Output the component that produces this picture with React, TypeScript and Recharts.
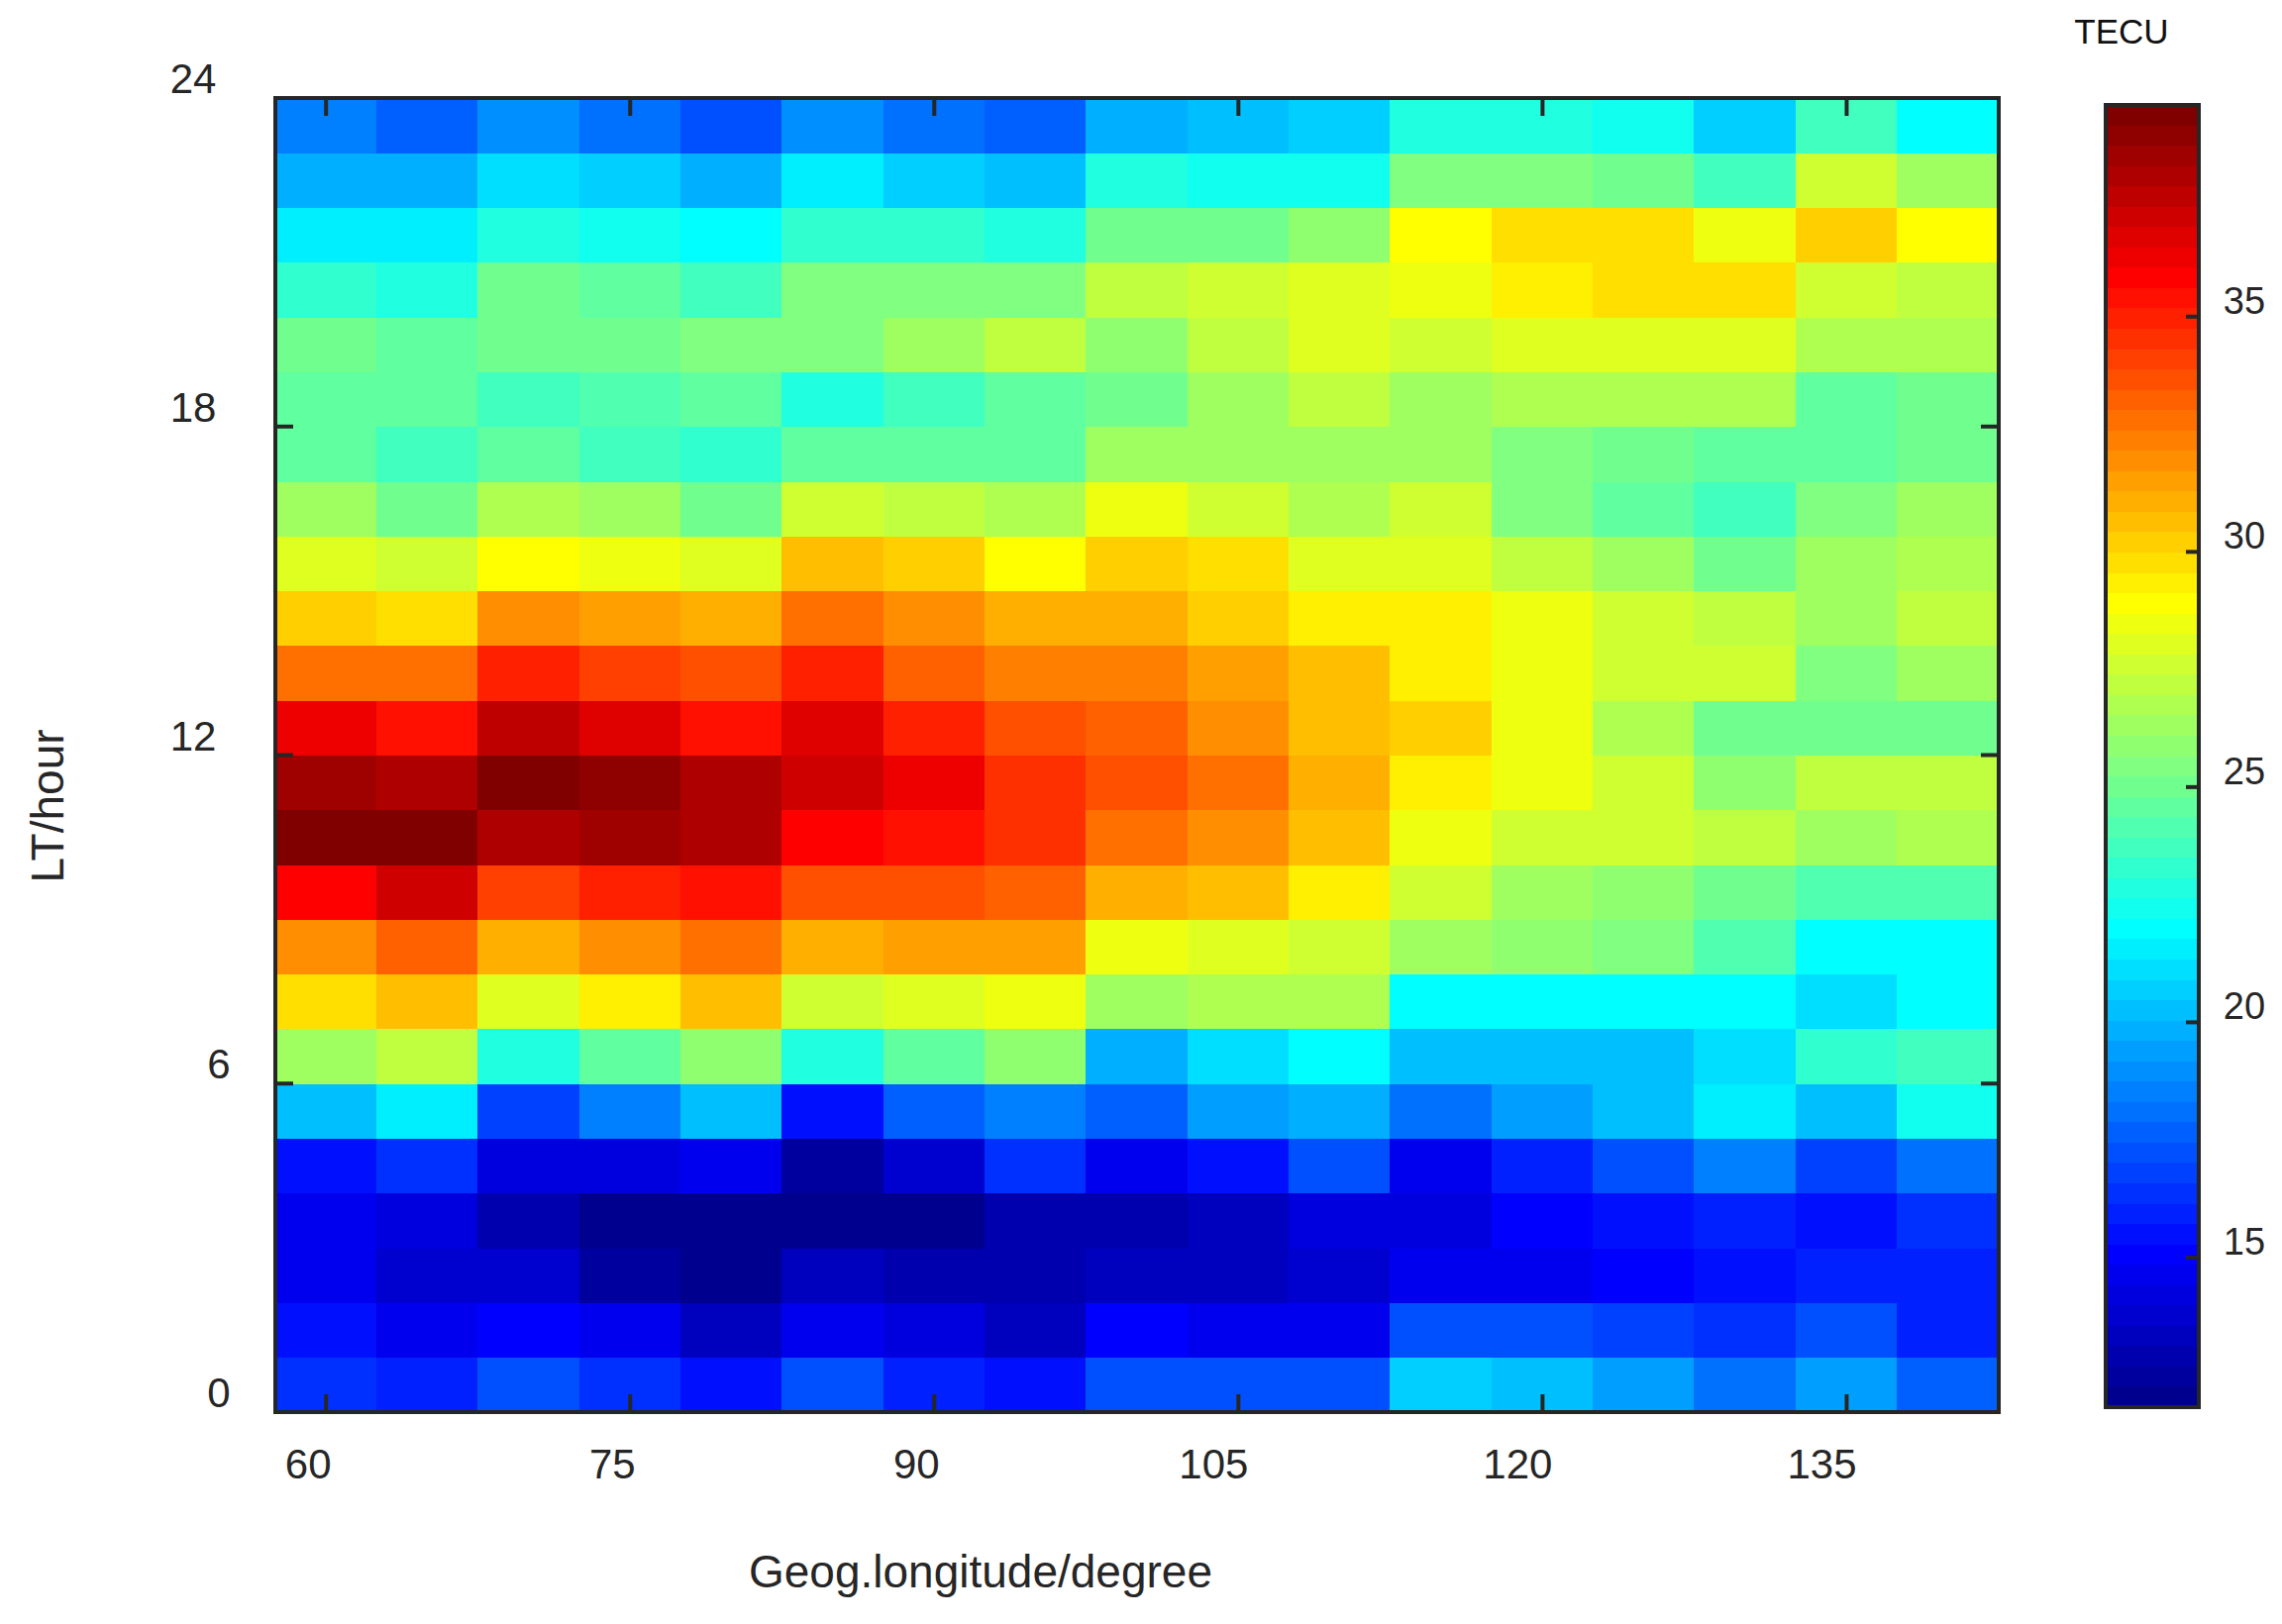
import { Bar, BarChart, Cell, XAxis, YAxis } from "recharts";

const longitudes = [60, 65, 70, 75, 80, 85, 90, 95, 100, 105, 110, 115, 120, 125, 130, 135, 140];
const lonTicks = [60, 75, 90, 105, 120, 135];
const hourTicks = [0, 6, 12, 18, 24];
const scaleTicks = [15, 20, 25, 30, 35];
const scaleMin = 11.82;
const scaleMax = 39.5;

// TEC per local-time hour, first row is 00-01 LT
const tecByHour = [
  [16.3, 15.9, 17.2, 16.3, 15.4, 17.2, 16.1, 15.4, 17.4, 17.4, 17.4, 20.7, 20.1, 19.3, 18.1, 19.5, 17.6],
  [15.3, 14.5, 15.1, 14.8, 13.5, 14.6, 14.0, 13.5, 15.1, 14.8, 14.6, 17.2, 17.2, 16.8, 16.3, 17.2, 15.9],
  [14.8, 13.7, 13.9, 12.6, 12.2, 13.5, 13.0, 13.0, 13.5, 13.2, 13.8, 14.8, 14.8, 15.1, 15.3, 15.8, 15.8],
  [14.5, 14.0, 13.0, 12.1, 12.1, 12.2, 12.1, 12.8, 13.0, 13.4, 14.2, 14.2, 15.0, 15.4, 15.8, 15.4, 16.2],
  [15.4, 16.2, 14.2, 14.2, 14.7, 12.4, 13.7, 16.3, 14.5, 15.4, 17.4, 14.8, 15.9, 17.4, 18.7, 16.8, 18.1],
  [20.1, 21.6, 16.8, 18.5, 20.4, 15.7, 17.6, 18.7, 17.6, 19.3, 19.9, 18.3, 19.3, 20.1, 21.4, 20.2, 22.3],
  [26.2, 27.2, 22.8, 24.4, 25.9, 22.8, 24.4, 25.9, 20.0, 21.0, 21.9, 20.4, 20.4, 20.4, 21.0, 23.3, 23.8],
  [29.9, 30.6, 28.1, 29.3, 30.6, 27.4, 28.1, 28.6, 26.2, 26.9, 26.9, 22.0, 21.9, 21.9, 21.8, 21.1, 21.8],
  [31.9, 33.4, 31.2, 31.9, 33.0, 31.2, 31.5, 31.5, 28.6, 28.1, 27.6, 26.3, 25.9, 25.5, 24.3, 22.0, 22.0],
  [35.8, 37.2, 34.1, 35.0, 35.6, 33.6, 33.6, 33.2, 31.2, 30.6, 29.5, 27.4, 26.3, 25.9, 25.0, 24.3, 24.3],
  [39.3, 39.3, 38.0, 38.6, 38.0, 35.8, 35.4, 34.5, 33.0, 32.1, 30.7, 28.6, 27.6, 27.6, 27.0, 26.2, 26.9],
  [38.5, 38.0, 39.3, 38.9, 38.2, 37.3, 36.4, 34.5, 33.6, 32.6, 31.2, 29.3, 28.3, 27.4, 25.9, 27.0, 27.2],
  [36.4, 35.4, 37.5, 36.8, 35.4, 36.8, 35.0, 33.6, 33.2, 31.9, 30.7, 30.0, 28.3, 26.9, 25.1, 24.9, 24.9],
  [32.8, 32.8, 35.0, 34.3, 33.8, 34.8, 33.4, 32.4, 32.4, 31.5, 30.6, 29.3, 28.3, 27.7, 27.4, 25.6, 26.3],
  [30.4, 29.9, 32.1, 31.7, 31.2, 32.8, 31.9, 31.1, 31.0, 30.4, 29.3, 29.3, 28.3, 27.6, 27.2, 26.5, 27.2],
  [28.1, 27.7, 29.0, 28.6, 28.2, 30.7, 30.0, 28.8, 30.3, 29.7, 28.1, 28.1, 27.2, 26.3, 25.0, 26.5, 26.8],
  [26.3, 25.0, 26.7, 26.3, 25.0, 27.6, 27.2, 26.7, 28.6, 27.4, 26.7, 27.4, 25.6, 24.4, 23.8, 25.5, 26.2],
  [24.4, 23.8, 24.4, 23.8, 23.3, 24.7, 24.7, 24.7, 26.5, 26.5, 26.5, 26.5, 25.5, 25.0, 24.7, 24.6, 25.0],
  [24.7, 24.7, 23.8, 24.2, 24.7, 22.8, 23.8, 24.7, 25.0, 26.3, 27.2, 26.3, 26.8, 26.8, 26.8, 24.4, 25.0],
  [25.0, 24.7, 25.0, 25.0, 25.6, 25.6, 26.3, 27.2, 25.9, 27.2, 28.0, 27.6, 28.2, 28.2, 28.2, 26.7, 26.7],
  [23.3, 22.8, 24.8, 24.5, 23.8, 25.4, 25.4, 25.4, 27.2, 27.6, 28.0, 28.5, 29.5, 29.9, 29.9, 27.6, 27.2],
  [21.6, 21.6, 22.8, 22.3, 22.0, 23.3, 23.3, 22.8, 25.0, 25.0, 25.9, 28.9, 29.8, 29.9, 28.6, 30.2, 29.0],
  [19.9, 19.9, 21.1, 20.7, 19.9, 21.6, 20.7, 20.2, 22.8, 22.3, 22.3, 25.4, 25.4, 24.8, 23.6, 27.6, 26.3],
  [18.4, 17.7, 19.0, 18.2, 17.3, 19.0, 18.2, 17.7, 20.0, 20.1, 20.6, 22.7, 22.7, 22.3, 20.7, 23.5, 21.8],
];

const LEVELS = 64;
const ink = "#262626";
const font = "'Liberation Sans', Arial, sans-serif";

// matlab jet(64)
function jetColor(i: number): string {
  const r = i < 24 ? 0 : i < 40 ? (i - 23) / 16 : i < 56 ? 1 : 1 - (i - 55) / 16;
  const g = i < 8 ? 0 : i < 24 ? (i - 7) / 16 : i < 40 ? 1 : i < 56 ? 1 - (i - 39) / 16 : 0;
  const b = i < 8 ? (i + 9) / 16 : i < 24 ? 1 : i < 40 ? 1 - (i - 23) / 16 : 0;
  const hex = (c: number) => Math.round(c * 255).toString(16).padStart(2, "0");
  return `#${hex(r)}${hex(g)}${hex(b)}`;
}

function tecColor(v: number): string {
  const i = Math.floor(((v - scaleMin) / (scaleMax - scaleMin)) * LEVELS);
  return jetColor(Math.max(0, Math.min(LEVELS - 1, i)));
}

const heatData = longitudes.map((lon) => {
  const row: Record<string, number> = { lon };
  tecByHour.forEach((_, h) => {
    row[`h${h}`] = 1;
  });
  return row;
});

const levelIds = Array.from({ length: LEVELS }, (_, i) => i);
const scaleRow: Record<string, number | string> = { name: "TECU", base: scaleMin };
levelIds.forEach((i) => {
  scaleRow[`l${i}`] = (scaleMax - scaleMin) / LEVELS;
});
const scaleData = [scaleRow];

function BottomTick({ x, y, payload }: any) {
  const s = String(payload.value);
  return (
    <g>
      <line x1={x} x2={x} y1={y} y2={y - 18} stroke={ink} strokeWidth={4} />
      <text x={x - (s.length > 2 ? 25 : 18)} y={y + 67} textAnchor="middle" fontSize={42} fontFamily={font} fill={ink}>
        {s}
      </text>
    </g>
  );
}

function TopTick({ x, y }: any) {
  return <line x1={x} x2={x} y1={y} y2={y + 18} stroke={ink} strokeWidth={4} />;
}

function LeftTick({ x, y, payload }: any) {
  const s = String(payload.value);
  return (
    <g>
      <line x1={x} x2={x + 18} y1={y} y2={y} stroke={ink} strokeWidth={4} />
      <text x={s.length > 1 ? 195 : 221} y={y - 5} textAnchor="middle" fontSize={42} fontFamily={font} fill={ink}>
        {s}
      </text>
    </g>
  );
}

function RightTick({ x, y }: any) {
  return <line x1={x} x2={x - 18} y1={y} y2={y} stroke={ink} strokeWidth={4} />;
}

function ScaleTick({ x, y, payload }: any) {
  return (
    <g>
      <line x1={x} x2={x - 13} y1={y} y2={y} stroke={ink} strokeWidth={4} />
      <text x={x + 46} y={y - 3} textAnchor="middle" fontSize={38} fontFamily={font} fill={ink}>
        {payload.value}
      </text>
    </g>
  );
}

const frame = { stroke: ink, strokeWidth: 4, strokeLinecap: "square" as const };

function HeatMap() {
  return (
    <BarChart
      width={2304}
      height={1640}
      data={heatData}
      margin={{ left: 277, right: 285, top: 98, bottom: 213 }}
      barCategoryGap={0}
      barGap={0}
    >
      {tecByHour.map((row, h) => (
        <Bar
          key={h}
          dataKey={`h${h}`}
          stackId="heat"
          xAxisId="bottom"
          yAxisId="left"
          shapeRendering="crispEdges"
          isAnimationActive={false}
        >
          {row.map((v, c) => (
            <Cell key={c} fill={tecColor(v)} stroke={tecColor(v)} strokeWidth={1} />
          ))}
        </Bar>
      ))}
      <XAxis
        xAxisId="bottom"
        dataKey="lon"
        orientation="bottom"
        ticks={lonTicks}
        interval={0}
        height={1}
        tickSize={0}
        tickMargin={0}
        tickLine={false}
        axisLine={frame}
        tick={BottomTick}
      />
      <XAxis
        xAxisId="top"
        dataKey="lon"
        orientation="top"
        ticks={lonTicks}
        interval={0}
        height={1}
        tickSize={0}
        tickMargin={0}
        tickLine={false}
        axisLine={frame}
        tick={TopTick}
      />
      <YAxis
        yAxisId="left"
        type="number"
        domain={[0, 24]}
        ticks={hourTicks}
        interval={0}
        width={1}
        tickSize={0}
        tickMargin={0}
        tickLine={false}
        axisLine={frame}
        tick={LeftTick}
      />
      <YAxis
        yAxisId="right"
        orientation="right"
        type="number"
        domain={[0, 24]}
        allowDataOverflow
        ticks={hourTicks}
        interval={0}
        width={1}
        tickSize={0}
        tickMargin={0}
        tickLine={false}
        axisLine={frame}
        tick={RightTick}
      />
      <text x={990} y={1603} textAnchor="middle" fontSize={46} fontFamily={font} fill={ink}>
        Geog.longitude/degree
      </text>
      <text
        x={48}
        y={814}
        textAnchor="middle"
        dominantBaseline="central"
        transform="rotate(-90 48 814)"
        fontSize={46}
        fontFamily={font}
        fill={ink}
      >
        LT/hour
      </text>
    </BarChart>
  );
}

function ColorBar() {
  return (
    <BarChart
      width={304}
      height={1640}
      data={scaleData}
      margin={{ left: 125, right: 83, top: 105, bottom: 218 }}
      barCategoryGap={0}
      barGap={0}
    >
      <Bar dataKey="base" stackId="scale" xAxisId="bottom" yAxisId="left" fill="none" isAnimationActive={false} />
      {levelIds.map((i) => (
        <Bar
          key={i}
          dataKey={`l${i}`}
          stackId="scale"
          xAxisId="bottom"
          yAxisId="left"
          fill={jetColor(i)}
          shapeRendering="crispEdges"
          isAnimationActive={false}
        />
      ))}
      <XAxis xAxisId="bottom" dataKey="name" orientation="bottom" height={1} tick={false} tickLine={false} axisLine={frame} />
      <XAxis xAxisId="top" dataKey="name" orientation="top" height={1} tick={false} tickLine={false} axisLine={frame} />
      <YAxis
        yAxisId="left"
        type="number"
        domain={[scaleMin, scaleMax]}
        allowDataOverflow
        width={1}
        tick={false}
        tickLine={false}
        axisLine={frame}
      />
      <YAxis
        yAxisId="right"
        orientation="right"
        type="number"
        domain={[scaleMin, scaleMax]}
        allowDataOverflow
        ticks={scaleTicks}
        interval={0}
        width={1}
        tickSize={0}
        tickMargin={0}
        tickLine={false}
        axisLine={frame}
        tick={ScaleTick}
      />
      <text x={142} y={44} textAnchor="middle" fontSize={35} fontFamily={font} fill="#111111">
        TECU
      </text>
    </BarChart>
  );
}

export default function App() {
  return (
    <div style={{ position: "absolute", left: 0, top: 0, width: 2304, height: 1640, background: "#fff" }}>
      <div style={{ position: "absolute", left: 0, top: 0 }}>
        <HeatMap />
      </div>
      <div style={{ position: "absolute", left: 2000, top: 0 }}>
        <ColorBar />
      </div>
    </div>
  );
}
